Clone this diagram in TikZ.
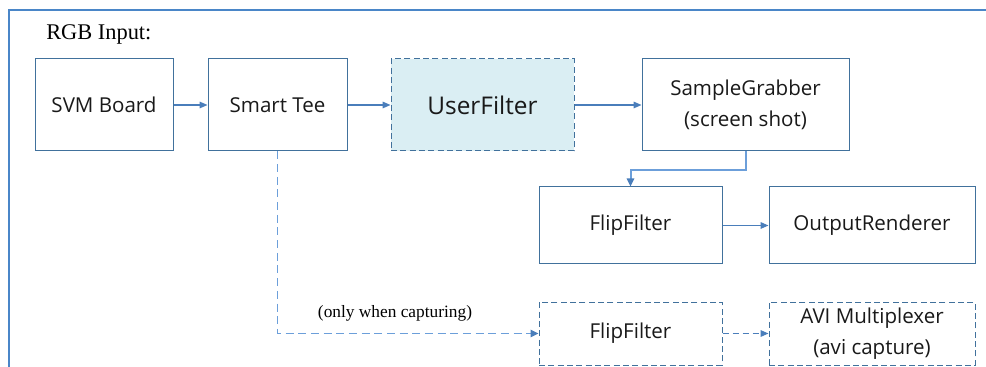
\documentclass[tikz,border=0pt]{standalone}
\usepackage{fontspec}
\setmainfont{Open Sans}
\newfontfamily\serifT{Liberation Serif}
\usetikzlibrary{arrows.meta}
\definecolor{framec}{HTML}{4A86C8}
\definecolor{boxc}{HTML}{41719C}
\definecolor{arrc}{HTML}{4A7EBB}
\definecolor{lightarr}{HTML}{6C9FDA}
\definecolor{ufill}{HTML}{DAEEF3}
\tikzset{
  box/.style={draw=boxc, line width=0.75pt, rectangle, inner sep=0pt, align=center,
    font=\fontsize{15.4}{23}\selectfont, text=black!90},
  dbox/.style={box, dash pattern=on 4.5pt off 2.5pt},
  conn/.style={draw=arrc, line width=0.8pt, -{Triangle[length=6pt,width=5pt]}},
  lconn/.style={draw=lightarr, line width=1.5pt, -{Triangle[length=6pt,width=5.5pt,color=arrc]}},
  dconn/.style={conn, dash pattern=on 4.5pt off 3pt},
  ldconn/.style={draw=lightarr, line width=1.4pt, dash pattern=on 6pt off 3.5pt, -{Triangle[length=6pt,width=5.5pt,color=arrc]}},
}
\begin{document}
\begin{tikzpicture}[x=0.75pt,y=-0.75pt]
\useasboundingbox (0,0) rectangle (986,367);
\begin{scope}
\clip (0,0) rectangle (986,367);
\draw[framec, line width=1.5pt] (9,10.5) rectangle (1010,400);
\end{scope}
\node[anchor=base west, inner sep=0pt, font=\serifT\fontsize{16.8}{18}\selectfont] (rgb) at (46,40) {RGB Input:};
\node[box, minimum width=103.5pt, minimum height=69pt] (svm) at (104,105) {SVM Board};
\node[box, minimum width=104.25pt, minimum height=69pt] (st) at (277.5,105) {Smart Tee};
\node[dbox, fill=ufill, minimum width=137.25pt, minimum height=69pt, font=\fontsize{18.3}{22}\selectfont] (uf) at (482.5,105) {UserFilter};
\node[box, minimum width=155.25pt, minimum height=69pt] (sg) at (745.5,105) {SampleGrabber\\(screen shot)};
\node[box, minimum width=137.25pt, minimum height=57.75pt] (ff1) at (630.5,225.5) {FlipFilter};
\node[box, minimum width=154.5pt, minimum height=57.75pt] (out) at (872,225.5) {OutputRenderer};
\node[dbox, minimum width=137.25pt, minimum height=47.25pt] (ff2) at (630.5,333.5) {FlipFilter};
\node[dbox, minimum width=154.5pt, minimum height=47.25pt] (avi) at (872,333.5) {AVI Multiplexer\\(avi capture)};
\node[font=\serifT\fontsize{13}{15}\selectfont] (cap) at (395,313) {(only when capturing)};
\draw[conn] (svm) -- (st);
\draw[conn] (st) -- (uf);
\draw[conn] (uf) -- (sg);
\draw[lconn] (sg.south) -- ++(0,19) -| (ff1.north);
\draw[conn] (ff1) -- (out);
\draw[ldconn] (st.south) |- (ff2.west);
\draw[dconn] (ff2) -- (avi);
\end{tikzpicture}
\end{document}
